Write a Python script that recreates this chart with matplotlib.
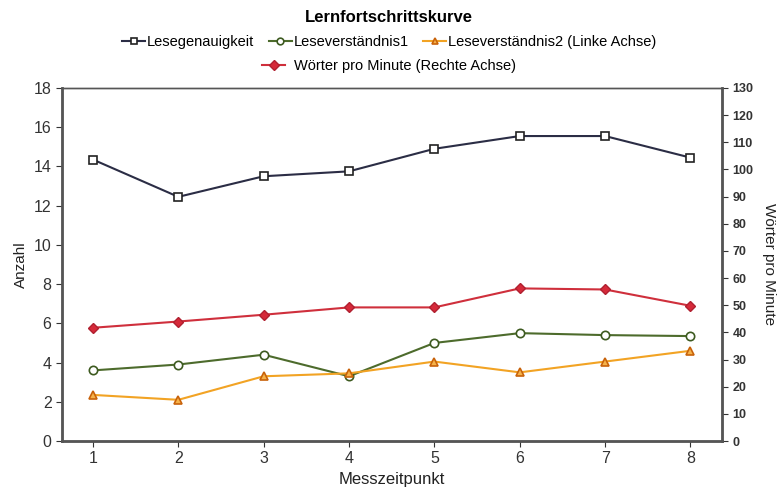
import numpy as np
import matplotlib.pyplot as plt

plt.rcParams['font.family'] = ['Liberation Sans', 'DejaVu Sans']

# Messzeitpunkte und Werte
zeit = [1, 2, 3, 4, 5, 6, 7, 8]
lesegenauigkeit = [14.35, 12.45, 13.5, 13.75, 14.9, 15.55, 15.55, 14.45]
leseverst1 = [3.6, 3.9, 4.4, 3.3, 5.0, 5.5, 5.4, 5.35]
leseverst2 = [2.35, 2.1, 3.3, 3.45, 4.05, 3.5, 4.05, 4.6]
woerter = [41.7, 44.0, 46.5, 49.2, 49.2, 56.2, 55.8, 49.8]

fig = plt.figure(figsize=(7.78, 4.97), dpi=100)
ax = fig.add_axes([62/778, 1-441/497, 660/778, 353/497])
ax2 = ax.twinx()

l1, = ax.plot(zeit, lesegenauigkeit, color='#2b2d45', lw=1.5, marker='s', ms=6,
              mfc='white', mec='#222222', mew=1.2, label='Lesegenauigkeit')
l2, = ax.plot(zeit, leseverst1, color='#4d6b2c', lw=1.5, marker='o', ms=6,
              mfc='white', mec='#3d5a20', mew=1.2, label='Leseverständnis1')
l3, = ax.plot(zeit, leseverst2, color='#f2a324', lw=1.5, marker='^', ms=6,
              mfc='#f5b24a', mec='#c8620a', mew=1.2, label='Leseverständnis2 (Linke Achse)')
l4, = ax2.plot(zeit, woerter, color='#cf2f3c', lw=1.5, marker='D', ms=5,
               mfc='#d62a3a', mec='#b02030', label='Wörter pro Minute (Rechte Achse)')

ax.set_xlim(0.637, 8.37)
ax.set_ylim(0, 18)
ax2.set_ylim(0, 130)
ax.set_xticks(zeit)
ax.set_yticks(range(0, 19, 2))
ax2.set_yticks(range(0, 131, 10))
ax.tick_params(axis='both', labelsize=11.5, length=4, colors='#333333')
ax2.tick_params(axis='y', labelsize=9, length=4, colors='#333333')
for t in ax2.get_yticklabels():
    t.set_fontweight('bold')

ax.set_xlabel('Messzeitpunkt', fontsize=12, color='#222222')
ax.set_ylabel('Anzahl', fontsize=11, color='#222222')
ax2.set_ylabel('Wörter pro Minute', fontsize=11, color='#222222', rotation=270, labelpad=16)

for a in (ax, ax2):
    for s in a.spines.values():
        s.set_color('#555555')
        s.set_linewidth(1.0)
ax.spines['bottom'].set_linewidth(2.0)
ax.spines['left'].set_linewidth(2.0)
ax2.spines['right'].set_linewidth(2.0)

fig.text(0.5, 1-18/497, 'Lernfortschrittskurve', ha='center', va='center',
         fontsize=12, fontweight='bold')
fig.legend(handles=[l1, l2, l3], loc='center', bbox_to_anchor=(0.5, 1-42/497),
           ncol=3, frameon=False, fontsize=10.5, handlelength=1.6,
           handletextpad=0.1, columnspacing=1.0, markerscale=0.8)
fig.legend(handles=[l4], loc='center', bbox_to_anchor=(0.5, 1-66/497),
           frameon=False, fontsize=10.5, handlelength=1.6, handletextpad=0.6)

fig.savefig('out.png', dpi=100)
